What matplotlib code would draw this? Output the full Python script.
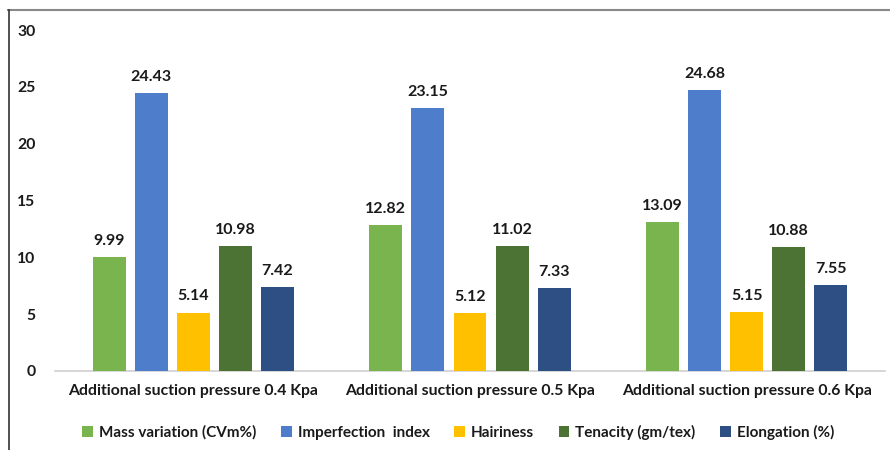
import matplotlib
matplotlib.use("Agg")
import matplotlib.pyplot as plt
from matplotlib.lines import Line2D
from matplotlib.patches import Patch
import numpy as np

categories = ["Additional suction pressure 0.4 Kpa",
              "Additional suction pressure 0.5 Kpa",
              "Additional suction pressure 0.6 Kpa"]
series_names = ["Mass variation (CVm%)", "Imperfection  index", "Hairiness",
                "Tenacity (gm/tex)", "Elongation (%)"]
mass_variation = [9.99, 12.82, 13.09]
imperfection = [24.43, 23.15, 24.68]
hairiness = [5.14, 5.12, 5.15]
tenacity = [10.98, 11.02, 10.88]
elongation = [7.42, 7.33, 7.55]
colors = ["#7AB44E", "#4E7ECB", "#FFC000", "#4D7334", "#2E4F83"]
yticks = [0, 5, 10, 15, 20, 25, 30]

plt.rcParams['font.family'] = ['Lato', 'DejaVu Sans']

fig = plt.figure(figsize=(8.9, 4.5), dpi=100)
ax = fig.add_axes([55/890, 1-371/450, 830/890, 341/450])

data = [mass_variation, imperfection, hairiness, tenacity, elongation]
x = np.arange(len(categories))
width = 0.119
step = 0.152
for i, (vals, c) in enumerate(zip(data, colors)):
    pos = x + (i - 2) * step
    bars = ax.bar(pos, vals, width, color=c, label=series_names[i], zorder=3)
    for b, v in zip(bars, vals):
        ax.text(b.get_x() + b.get_width()/2, v + 0.8, f"{v:.2f}",
                ha='center', va='bottom', fontsize=11.5, fontweight='bold',
                color='#1a1a1a')

ax.set_xlim(-0.5, 2.5)
ax.set_ylim(0, 30)
ax.set_yticks(yticks)
ax.set_yticklabels([str(t) for t in yticks], fontsize=11.3, fontweight='bold', color='#1a1a1a')
ax.set_xticks(x)
ax.set_xticklabels(categories, fontsize=11.3, fontweight='bold', color='#1a1a1a')
ax.tick_params(axis='both', length=0)
ax.tick_params(axis='y', pad=14)
ax.tick_params(axis='x', pad=9)
for s in ['top', 'right', 'left']:
    ax.spines[s].set_visible(False)
ax.spines['bottom'].set_color('#d0d0d0')
ax.spines['bottom'].set_linewidth(1.2)

handles = [Patch(facecolor=c, label=n) for c, n in zip(colors, series_names)]
leg = fig.legend(handles=handles, loc='center', bbox_to_anchor=(0.515, 1-432/450),
                 ncol=5, frameon=False, fontsize=11, handlelength=0.7,
                 handleheight=0.7, handletextpad=0.4, columnspacing=1.6)
for t in leg.get_texts():
    t.set_fontweight('bold')
    t.set_color('#1a1a1a')

fig.add_artist(Line2D([8/890, 1], [1-10/450, 1-10/450], color='#888888', lw=1.5))
fig.add_artist(Line2D([9/890, 9/890], [0, 1-10/450], color='#333333', lw=1.2))

fig.savefig("out.png", dpi=100)
